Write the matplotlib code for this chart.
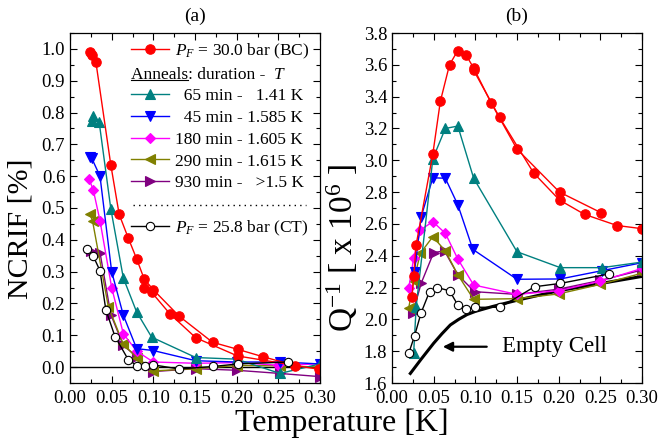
import numpy as np
import matplotlib
matplotlib.use('Agg')
import matplotlib.pyplot as plt
from matplotlib.ticker import MultipleLocator, FormatStrFormatter
from matplotlib.lines import Line2D
from matplotlib.transforms import IdentityTransform

plt.rcParams['font.family'] = ['Liberation Serif', 'DejaVu Serif']
plt.rcParams['mathtext.fontset'] = 'custom'
plt.rcParams['mathtext.rm'] = 'Liberation Serif'
plt.rcParams['mathtext.it'] = 'Liberation Serif:italic'

# ---- (a) NCRIF vs T ----
bc_a1_t = [0.024, 0.026, 0.031, 0.049, 0.059, 0.070, 0.080, 0.089, 0.100, 0.131, 0.171, 0.201, 0.231, 0.270]
bc_a1_v = [0.99, 0.98, 0.96, 0.635, 0.48, 0.405, 0.34, 0.277, 0.243, 0.160, 0.078, 0.056, 0.033, 0.005]
bc_a2_t = [0.089, 0.098, 0.120, 0.151, 0.201, 0.299]
bc_a2_v = [0.250, 0.235, 0.167, 0.092, 0.035, -0.007]

a65_t = [0.026, 0.028, 0.035, 0.049, 0.064, 0.080, 0.098, 0.151, 0.200, 0.252, 0.300]
a65_v = [0.775, 0.79, 0.77, 0.497, 0.28, 0.173, 0.094, 0.03, 0.025, -0.02, 0.01]
a45_t = [0.024, 0.026, 0.036, 0.050, 0.064, 0.080, 0.100, 0.151, 0.200, 0.252, 0.300]
a45_v = [0.66, 0.657, 0.60, 0.30, 0.163, 0.058, 0.052, 0.02, 0.016, 0.016, 0.01]
a180_t = [0.023, 0.028, 0.036, 0.050, 0.064, 0.080, 0.100, 0.151, 0.200, 0.250, 0.300]
a180_v = [0.59, 0.556, 0.46, 0.25, 0.105, 0.05, 0.016, 0.012, 0.014, 0.006, 0.01]
a290_t = [0.024, 0.027, 0.046, 0.064, 0.080, 0.100, 0.151, 0.200, 0.252, 0.300]
a290_v = [0.48, 0.46, 0.19, 0.072, 0.03, -0.012, -0.005, 0.005, 0.004, 0.0]
a930_t = [0.025, 0.036, 0.049, 0.064, 0.080, 0.100, 0.151, 0.200, 0.252, 0.300]
a930_v = [0.365, 0.36, 0.165, 0.068, 0.033, -0.014, -0.005, -0.01, -0.02, -0.03]
ct_a_t = [0.020, 0.028, 0.036, 0.043, 0.054, 0.070, 0.080, 0.090, 0.100, 0.131, 0.172, 0.202, 0.262]
ct_a_v = [0.371, 0.348, 0.303, 0.18, 0.096, 0.023, 0.005, 0.005, 0.007, -0.006, 0.002, 0.01, 0.016]

# ---- (b) Q^-1 vs T ----
bc_b1_t = [0.024, 0.026, 0.029, 0.049, 0.058, 0.069, 0.079, 0.089, 0.098, 0.119, 0.150, 0.201, 0.251]
bc_b1_q = [2.14, 2.27, 2.47, 3.04, 3.37, 3.60, 3.69, 3.66, 3.58, 3.36, 3.07, 2.80, 2.67]
bc_b2_t = [0.098, 0.129, 0.170, 0.201, 0.231, 0.270, 0.300]
bc_b2_q = [3.565, 3.27, 2.92, 2.75, 2.66, 2.59, 2.57]

b65_t = [0.026, 0.029, 0.049, 0.064, 0.079, 0.098, 0.150, 0.202, 0.252, 0.300]
b65_q = [1.79, 2.08, 3.01, 3.20, 3.215, 2.887, 2.425, 2.325, 2.325, 2.36]
b45_t = [0.027, 0.035, 0.049, 0.064, 0.079, 0.097, 0.150, 0.202, 0.252, 0.300]
b45_q = [2.30, 2.645, 2.89, 2.887, 2.72, 2.44, 2.252, 2.254, 2.306, 2.356]
b180_t = [0.020, 0.026, 0.034, 0.049, 0.064, 0.079, 0.098, 0.150, 0.200, 0.250, 0.300]
b180_q = [2.195, 2.384, 2.562, 2.614, 2.541, 2.379, 2.216, 2.157, 2.18, 2.24, 2.32]
b290_t = [0.020, 0.026, 0.034, 0.049, 0.064, 0.079, 0.098, 0.150, 0.200, 0.250, 0.300]
b290_q = [2.07, 2.24, 2.415, 2.52, 2.43, 2.28, 2.126, 2.13, 2.16, 2.22, 2.29]
b930_t = [0.025, 0.035, 0.050, 0.063, 0.079, 0.099, 0.150, 0.200, 0.250, 0.300]
b930_q = [2.04, 2.227, 2.42, 2.43, 2.28, 2.174, 2.157, 2.19, 2.245, 2.31]
ct_b_t = [0.020, 0.027, 0.035, 0.045, 0.054, 0.069, 0.079, 0.089, 0.099, 0.130, 0.171, 0.202, 0.260]
ct_b_q = [1.786, 1.895, 2.042, 2.174, 2.20, 2.18, 2.09, 2.063, 2.076, 2.076, 2.205, 2.226, 2.285]
empty_t = [0.022, 0.035, 0.05, 0.06, 0.07, 0.08, 0.09, 0.10, 0.12, 0.15, 0.20, 0.25, 0.30]
empty_q = [1.66, 1.75, 1.85, 1.91, 1.965, 2.0, 2.03, 2.05, 2.08, 2.12, 2.18, 2.225, 2.27]

leg_labels = [r'$P_F$ = 30.0 bar (BC)', ' ',
              '\u200765 min - \u20071.41 K',
              '\u200745 min - 1.585 K',
              '180 min - 1.605 K',
              '290 min - 1.615 K',
              '930 min - \u2007>1.5 K',
              ' ',
              r'$P_F$ = 25.8 bar (CT)']

RED, TEAL, BLUE, MAG, OLIVE, PURP = '#ff0000', '#008080', '#0000ff', '#ff00ff', '#808000', '#800080'
kw = dict(lw=1.0, ms=6.8, mew=0.8)

fig = plt.figure(figsize=(6.6, 4.41), dpi=100)
ax1 = fig.add_axes([70/660, 58/441, 250/660, 350/441])
ax2 = fig.add_axes([392/660, 58/441, 250/660, 350/441])

# panel a
ax1.axhline(0, color='k', lw=1.0, zorder=1)
h930, = ax1.plot(a930_t, a930_v, '>', ls='-', color=PURP, **kw)
h290, = ax1.plot(a290_t, a290_v, '<', ls='-', color=OLIVE, **kw)
h180, = ax1.plot(a180_t, a180_v, 'D', ls='-', color=MAG, lw=1.0, ms=5.5, mew=0.8)
h45, = ax1.plot(a45_t, a45_v, 'v', ls='-', color=BLUE, **kw)
h65, = ax1.plot(a65_t, a65_v, '^', ls='-', color=TEAL, **kw)
hbc, = ax1.plot(bc_a1_t, bc_a1_v, 'o', ls='-', color=RED, **kw)
ax1.plot(bc_a2_t, bc_a2_v, 'o', ls='-', color=RED, **kw)
hct, = ax1.plot(ct_a_t, ct_a_v, 'o', ls='-', color='k', mfc='white', lw=1.0, ms=6, mew=0.8)

# panel b
ax2.plot(empty_t, empty_q, color='k', lw=2.2, zorder=1)
ax2.plot(b930_t, b930_q, '>', ls='-', color=PURP, **kw)
ax2.plot(b290_t, b290_q, '<', ls='-', color=OLIVE, **kw)
ax2.plot(b180_t, b180_q, 'D', ls='-', color=MAG, lw=1.0, ms=5.5, mew=0.8)
ax2.plot(b45_t, b45_q, 'v', ls='-', color=BLUE, **kw)
ax2.plot(b65_t, b65_q, '^', ls='-', color=TEAL, **kw)
ax2.plot(bc_b1_t, bc_b1_q, 'o', ls='-', color=RED, **kw)
ax2.plot(bc_b2_t, bc_b2_q, 'o', ls='-', color=RED, **kw)
ax2.plot(ct_b_t, ct_b_q, 'o', ls='-', color='k', mfc='white', lw=1.0, ms=6, mew=0.8)

ax2.annotate('Empty Cell', xy=(0.061, 1.828), xytext=(0.132, 1.828),
             ha='left', va='center', fontsize=16.5,
             arrowprops=dict(arrowstyle='-|>', color='k', lw=1.6, mutation_scale=14,
                             relpos=(0, 0.5), shrinkA=9, shrinkB=0))

for ax in (ax1, ax2):
    ax.set_xlim(0, 0.30)
    ax.xaxis.set_major_locator(MultipleLocator(0.05))
    ax.xaxis.set_minor_locator(MultipleLocator(0.025))
    ax.xaxis.set_major_formatter(FormatStrFormatter('%.2f'))
    ax.yaxis.set_major_formatter(FormatStrFormatter('%.1f'))
    ax.tick_params(which='both', direction='in', top=True, right=True, labelsize=13.5, width=0.8)
    ax.tick_params(which='major', length=5)
    ax.tick_params(which='minor', length=3)
    ax.tick_params(axis='x', which='major', pad=5)
    for s in ax.spines.values():
        s.set_linewidth(0.9)

ax1.set_ylim(-0.05, 1.05)
ax1.yaxis.set_major_locator(MultipleLocator(0.1))
ax1.yaxis.set_minor_locator(MultipleLocator(0.05))
ax2.set_ylim(1.6, 3.8)
ax2.yaxis.set_major_locator(MultipleLocator(0.2))
ax2.yaxis.set_minor_locator(MultipleLocator(0.1))

ax1.set_title('(a)', fontsize=14, pad=9)
ax2.set_title('(b)', fontsize=14, pad=9)
ax1.set_ylabel('NCRIF [%]', fontsize=21.5)
ax1.yaxis.set_label_coords(-0.145, 0.44)
ax2.set_ylabel(r'Q$^{-1}$ [ x 10$^{6}$ ]', fontsize=24)
ax2.yaxis.set_label_coords(-0.13, 0.385)
fig.text(0.518, 0.04, 'Temperature [K]', ha='center', va='center', fontsize=23)

blank1 = Line2D([], [], ls='none')
blank2 = Line2D([], [], ls='none')
leg = ax1.legend([hbc, blank1, h65, h45, h180, h290, h930, blank2, hct], leg_labels,
                 loc='upper left', bbox_to_anchor=(0.244, 0.975), frameon=False,
                 fontsize=12.5, handlelength=2.2, handletextpad=0.35,
                 labelspacing=0.32, borderpad=0, borderaxespad=0)

# extra legend rows: "Anneals" header and dotted separator
fig.canvas.draw()
r = fig.canvas.get_renderer()
lb = leg.get_window_extent(r)
texts = leg.get_texts()
b1 = texts[1].get_window_extent(r)
yc = (b1.y0 + b1.y1) / 2
t_ann = fig.text(lb.x0, yc, 'Anneals: duration -  ', fontsize=12.5, va='center', transform=IdentityTransform())
bb = t_ann.get_window_extent(r)
fig.text(bb.x1, yc, 'T', fontsize=12.5, style='italic', va='center', transform=IdentityTransform())
t_tmp = fig.text(lb.x0, yc, 'Anneals', fontsize=12.5, va='center', transform=IdentityTransform())
wa = t_tmp.get_window_extent(r).width
t_tmp.remove()
fig.add_artist(Line2D([lb.x0, lb.x0 + wa], [bb.y0 + 2.5, bb.y0 + 2.5], color='k', lw=0.8,
                      transform=IdentityTransform()))
b7 = texts[7].get_window_extent(r)
y7 = (b7.y0 + b7.y1) / 2
fig.add_artist(Line2D([lb.x0 + 2, lb.x1 - 4], [y7, y7], color='k', lw=1.0, ls=(0, (1, 3)),
                      transform=IdentityTransform()))

fig.savefig('out.png', dpi=100)
